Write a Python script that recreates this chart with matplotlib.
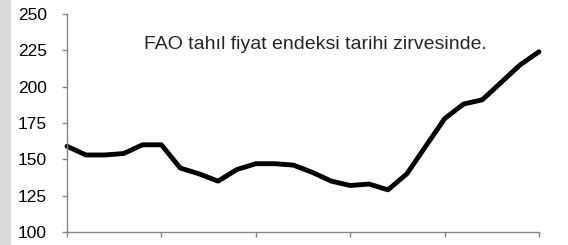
import numpy as np
import matplotlib.pyplot as plt
from matplotlib.patches import Rectangle

# FAO cereal price index, monthly points
index_values = [159, 153, 153, 154, 160, 160, 144, 140, 135, 143,
                147, 147, 146, 141, 135, 132, 133, 129, 140, 159,
                178, 188, 191, 203, 215, 224]
y_ticks = [100, 125, 150, 175, 200, 225, 250]
x_ticks = [0, 5, 10, 15, 20, 25]
note = "FAO tahıl fiyat endeksi tarihi zirvesinde."

plt.rcParams['font.family'] = ['Liberation Sans', 'DejaVu Sans']

fig = plt.figure(figsize=(5.68, 2.45), dpi=100)
fig.patches.append(Rectangle((0, 0), 10 / 568, 1, transform=fig.transFigure,
                             color='#d9d9d9', zorder=0))
ax = fig.add_axes([67 / 568, 13 / 245, 472 / 568, 218 / 245])

x = np.arange(len(index_values))
ax.plot(x, index_values, color='black', lw=3.5, solid_joinstyle='round',
        solid_capstyle='round', clip_on=False)

ax.set_xlim(0, 25)
ax.set_ylim(100, 250)
ax.set_xticks(x_ticks)
ax.set_xticklabels([])
ax.set_yticks(y_ticks)
ax.tick_params(axis='both', direction='out', length=3.6, color='#868686', width=1)
ax.tick_params(axis='y', labelsize=12.5, pad=11, labelcolor='black')

for side in ['top', 'right']:
    ax.spines[side].set_visible(False)
for side in ['left', 'bottom']:
    ax.spines[side].set_color('#868686')
    ax.spines[side].set_linewidth(1)

ax.text(0.527, 0.862, note, transform=ax.transAxes, ha='center', va='center',
        fontsize=14, color='#262626')

fig.savefig('out.png', dpi=100)
